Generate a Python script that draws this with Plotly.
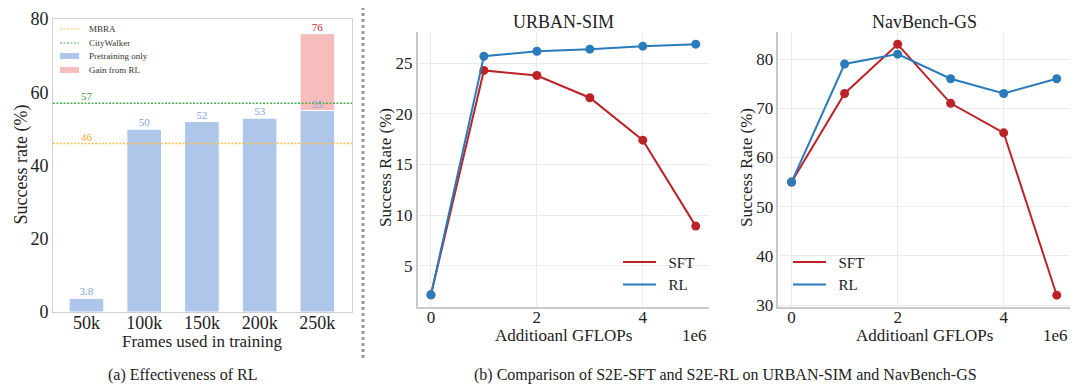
import plotly.graph_objects as go

# ---------------- data ----------------
frames = ["50k", "100k", "150k", "200k", "250k"]
pretrain_sr = [3.8, 50, 52, 53, 55]
rl_total_sr = [None, None, None, None, 76]
rl_gain = [0, 0, 0, 0, 21]
mbra_sr = 46
citywalker_sr = 57

gflops = [0, 1, 2, 3, 4, 5]
urban_sft = [2.1, 24.3, 23.8, 21.6, 17.4, 8.9]
urban_rl = [2.1, 25.7, 26.2, 26.4, 26.7, 26.9]
nav_sft = [55, 73, 83, 71, 65, 32]
nav_rl = [55, 79, 81, 76, 73, 76]

FONT = "Liberation Serif"
BLUE_BAR = "#aec6ea"
PINK_BAR = "#f7bcbc"
SFT_C = "#bc2328"
RL_C = "#2a7bbb"
ORANGE = "#ffc04d"
GREEN = "#4caf50"

# the page body has an 8px margin, so the figure is drawn 8px in from the window edge
OFF = 8
FW, FH = 1080 - OFF, 392 - OFF


def px(x):
    """window-pixel x -> paper fraction"""
    return (x - OFF) / FW


def py(y):
    """window-pixel y -> paper fraction"""
    return 1 - (y - OFF) / FH


fig = go.Figure()

# ---------- panel (a) ----------
fig.add_trace(go.Bar(x=frames, y=pretrain_sr, name="Pretraining only", marker=dict(color=BLUE_BAR, line=dict(color="white", width=1)),
                     width=0.6, xaxis="x", yaxis="y", showlegend=False))
fig.add_trace(go.Bar(x=frames, y=rl_gain, base=pretrain_sr, name="Gain from RL", marker=dict(color=PINK_BAR, line=dict(color="white", width=1)),
                     width=0.6, xaxis="x", yaxis="y", showlegend=False))
fig.add_trace(go.Scatter(x=frames, y=pretrain_sr, mode="text", text=[str(v) for v in pretrain_sr], textposition="top center",
                         textfont=dict(family=FONT, size=11, color="#7ea6e0"), showlegend=False, xaxis="x", yaxis="y"))
fig.add_trace(go.Scatter(x=frames, y=rl_total_sr, mode="text", text=[("" if v is None else str(v)) for v in rl_total_sr],
                         textposition="top center", textfont=dict(family=FONT, size=11, color="#d62728"), showlegend=False, xaxis="x", yaxis="y"))
fig.add_trace(go.Scatter(x=[frames[0], frames[0]], y=[citywalker_sr, mbra_sr], mode="text",
                         text=[str(citywalker_sr), str(mbra_sr)], textposition="top center",
                         textfont=dict(family=FONT, size=11, color=["#3f9a3f", "#f5aa2a"]), showlegend=False, xaxis="x", yaxis="y"))

fig.add_shape(type="line", xref="x domain", yref="y", x0=0, x1=1, y0=mbra_sr, y1=mbra_sr,
              line=dict(color=ORANGE, width=1.5, dash="2px,1.5px"))
fig.add_shape(type="line", xref="x domain", yref="y", x0=0, x1=1, y0=citywalker_sr, y1=citywalker_sr,
              line=dict(color=GREEN, width=1.5, dash="2px,1.5px"))

# compact legend for panel (a)
leg_items = [("MBRA", "line", ORANGE), ("CityWalker", "line", GREEN),
             ("Pretraining only", "box", BLUE_BAR), ("Gain from RL", "box", PINK_BAR)]
leg_y = [29, 43, 56, 70]
for (label, kind, col), yy in zip(leg_items, leg_y):
    if kind == "line":
        fig.add_shape(type="line", xref="paper", yref="paper", x0=px(60), x1=px(79), y0=py(yy), y1=py(yy),
                      line=dict(color=col, width=1.2, dash="2px,1.5px"))
    else:
        fig.add_shape(type="rect", xref="paper", yref="paper", x0=px(60), x1=px(79), y0=py(yy + 3), y1=py(yy - 3),
                      line=dict(width=0), fillcolor=col)
    fig.add_annotation(text=label, x=px(87), y=py(yy), xref="paper", yref="paper", showarrow=False,
                       xanchor="left", yanchor="middle", font=dict(family=FONT, size=9, color="#333"))

# ---------- panel (b) ----------
for ys, col, xa, ya in [
    (urban_sft, SFT_C, "x2", "y2"), (urban_rl, RL_C, "x2", "y2"),
    (nav_sft, SFT_C, "x3", "y3"), (nav_rl, RL_C, "x3", "y3"),
]:
    fig.add_trace(go.Scatter(x=[v * 1e6 for v in gflops], y=ys, mode="lines+markers",
                             line=dict(color=col, width=2), marker=dict(color=col, size=9),
                             xaxis=xa, yaxis=ya, showlegend=False))
# legend entries (line only, as in the reference)
for name, col, xa, ya, lg in [("SFT", SFT_C, "x2", "y2", "legend2"), ("RL", RL_C, "x2", "y2", "legend2"),
                              ("SFT", SFT_C, "x3", "y3", "legend3"), ("RL", RL_C, "x3", "y3", "legend3")]:
    fig.add_trace(go.Scatter(x=[None], y=[None], mode="lines", name="\u00a0\u00a0" + name, line=dict(color=col, width=2),
                             xaxis=xa, yaxis=ya, legend=lg, showlegend=True))

axis_font = dict(family=FONT, size=18, color="#222")
b_font = dict(family=FONT, size=17, color="#222")

common = dict(automargin=False, zeroline=False, ticks="", ticklabeloverflow="allow")

fig.update_layout(
    width=FW, height=FH,
    margin=dict(l=0, r=0, t=0, b=0, autoexpand=False),
    paper_bgcolor="white", plot_bgcolor="white",
    barmode="overlay",
    font=dict(family=FONT, color="#222"),
    hovermode=False,
    xaxis=dict(domain=[px(53), px(352)], range=[-0.58, 4.6], type="category",
               showline=True, linecolor="#d0d0d0", linewidth=1, mirror=True,
               showgrid=False, tickfont=axis_font, ticklabelstandoff=-6, **common),
    yaxis=dict(domain=[py(312), py(19)], range=[0, 80], tickvals=[0, 20, 40, 60, 80],
               showline=True, linecolor="#d0d0d0", linewidth=1, mirror=True,
               showgrid=False, tickfont=axis_font, **common),
    xaxis2=dict(domain=[px(417.7), px(709)], anchor="y2", range=[-0.25e6, 5.25e6], tickvals=[0, 2e6, 4e6],
                ticktext=["0", "2", "4"], showline=True, linecolor="#c8c8c8", linewidth=1.5,
                showgrid=True, gridcolor="#ebebeb", gridwidth=1, tickfont=b_font, ticklabelstandoff=-6, **common),
    yaxis2=dict(domain=[py(307), py(32)], anchor="x2", range=[0.9, 28.1], tickvals=[5, 10, 15, 20, 25],
                showline=True, linecolor="#c8c8c8", linewidth=1.5,
                showgrid=True, gridcolor="#ebebeb", gridwidth=1, tickfont=b_font, **common),
    xaxis3=dict(domain=[px(778.3), px(1070)], anchor="y3", range=[-0.25e6, 5.25e6], tickvals=[0, 2e6, 4e6],
                ticktext=["0", "2", "4"], showline=True, linecolor="#c8c8c8", linewidth=1.5,
                showgrid=True, gridcolor="#ebebeb", gridwidth=1, tickfont=b_font, ticklabelstandoff=-6, **common),
    yaxis3=dict(domain=[py(307), py(32)], anchor="x3", range=[29.6, 85.5], tickvals=[30, 40, 50, 60, 70, 80],
                showline=True, linecolor="#c8c8c8", linewidth=1.5,
                showgrid=True, gridcolor="#ebebeb", gridwidth=1, tickfont=b_font, **common),
    legend2=dict(x=px(618), y=py(245.7), xanchor="left", yanchor="top", bgcolor="rgba(0,0,0,0)",
                 font=dict(family=FONT, size=15, color="#222"), itemwidth=33),
    legend3=dict(x=px(788), y=py(245.7), xanchor="left", yanchor="top", bgcolor="rgba(0,0,0,0)",
                 font=dict(family=FONT, size=15, color="#222"), itemwidth=33),
)

# separator between (a) and (b)
fig.add_shape(type="line", xref="paper", yref="paper", x0=px(363), x1=px(363), y0=py(358), y1=1,
              line=dict(color="#999999", width=3, dash="dot"))

annos = [
    dict(text="URBAN-SIM", x=(417.7 + 709) / 2, y=22, size=18, angle=0),
    dict(text="NavBench-GS", x=(778.3 + 1070) / 2, y=22, size=18, angle=0),
    dict(text="(a) Effectiveness of RL", x=182, y=375, size=16, angle=0),
    dict(text="(b) Comparison of S2E-SFT and S2E-RL on URBAN-SIM and NavBench-GS", x=725, y=375, size=16, angle=0),
    dict(text="Frames used in training", x=(53 + 352) / 2, y=341, size=17, angle=0),
    dict(text="Additioanl GFLOPs", x=563, y=335, size=17, angle=0),
    dict(text="Additioanl GFLOPs", x=924, y=335, size=17, angle=0),
    dict(text="Success rate (%)", x=20.5, y=165, size=18, angle=-90),
    dict(text="Success Rate (%)", x=385, y=168, size=17, angle=-90),
    dict(text="Success Rate (%)", x=746, y=168, size=17, angle=-90),
]
for a in annos:
    fig.add_annotation(text=a["text"], x=px(a["x"]), y=py(a["y"]), xref="paper", yref="paper", showarrow=False,
                       xanchor="center", yanchor="middle", textangle=a["angle"],
                       font=dict(family=FONT, size=a["size"], color="#222"))
for xd in ["x2 domain", "x3 domain"]:
    fig.add_annotation(text="1e6", x=1, y=py(335), xref=xd, yref="paper", showarrow=False,
                       xanchor="right", yanchor="middle", font=b_font)

fig.write_html("out.html")
